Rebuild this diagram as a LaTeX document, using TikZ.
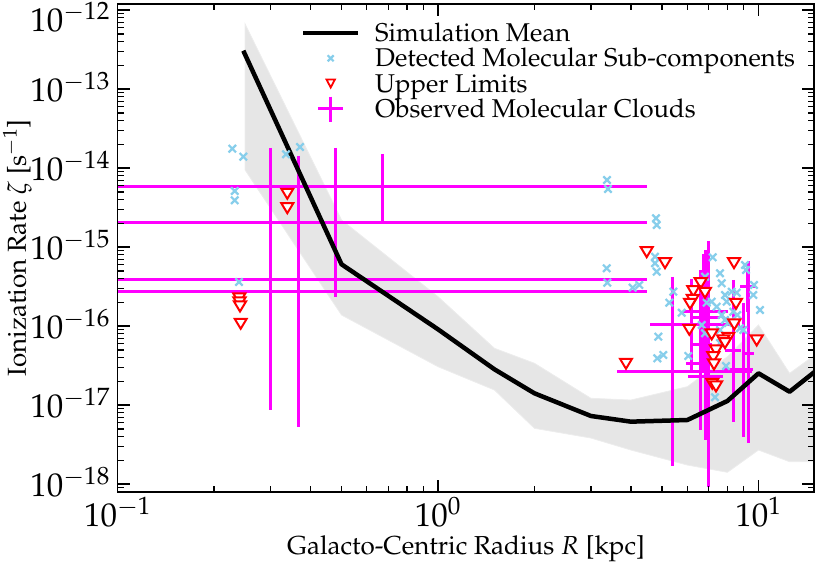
\documentclass[tikz,border=0pt]{standalone}
\usepackage[T1]{fontenc}
\usepackage{mathpazo}
\definecolor{sky}{HTML}{87CEEB}
\definecolor{mag}{HTML}{FF00FF}
\definecolor{bandc}{HTML}{E6E6E6}
\definecolor{bandedge}{HTML}{EDEDED}
\tikzset{
  spine/.style={line width=1.8pt, line cap=rect},
  tickmaj/.style={line width=1.5pt},
  tickmin/.style={line width=1.2pt},
  meanline/.style={line width=4.5pt, line join=round, black},
  errbar/.style={mag, line width=3pt},
  skyx/.style={sky, line width=2.2pt},
  redtri/.style={red, line width=2pt, fill=white, line join=miter},
  ticklab/.style={font=\fontsize{33}{33}\selectfont, inner sep=0pt},
  axlab/.style={font=\fontsize{26}{30}\selectfont, inner sep=0pt},
  leglab/.style={font=\fontsize{25.7}{30}\selectfont, inner sep=0pt, anchor=base west},
}
\newcommand\skyxm[3][3.7]{\draw[skyx] (#2-#1,#3-#1) -- (#2+#1,#3+#1) (#2-#1,#3+#1) -- (#2+#1,#3-#1);}
\newcommand\rtri[2]{\draw[redtri] (#1-6,#2-4.5) -- (#1+6,#2-4.5) -- (#1,#2+5.5) -- cycle;}
\newcommand\ebar[6]{\draw[errbar] (#3,#2) -- (#4,#2) (#1,#5) -- (#1,#6);}
\begin{document}
\begin{tikzpicture}
\useasboundingbox (0,0) rectangle (815pt,565pt);
% ---------- band (data coordinates: u=log10 R, v=log10 zeta)
\begin{scope}
\clip (117.5pt,73pt) rectangle (814pt,561pt);
\begin{scope}[x=320.5pt, y=79pt, shift={(438pt,1502.76pt)}]
\fill[bandc, draw=bandedge, line width=0.8pt]
  (-0.602,-12.174) -- (-0.301,-14.655) -- (0,-15.626) -- (0.176,-16.279) -- (0.301,-16.469)
  -- (0.477,-16.912) -- (0.602,-16.934) -- (0.778,-16.765) -- (0.903,-16.386) -- (1,-15.984)
  -- (1.097,-16.596) -- (1.176,-16.364) -- (1.2,-16.3) -- (1.2,-17.715)
  -- (1.176,-17.715) -- (1.097,-17.715) -- (1,-17.567) -- (0.903,-17.849) -- (0.778,-17.757)
  -- (0.602,-17.567) -- (0.477,-17.415) -- (0.301,-17.292) -- (0.176,-16.807) -- (0,-16.512)
  -- (-0.301,-15.858) -- (-0.602,-14.022) -- cycle;
\end{scope}
\end{scope}
% ---------- pixel coordinates (y downward)
\begin{scope}[x=1pt, y=-1pt, yshift=565pt]
\begin{scope}
\clip (117.5,4) rectangle (814,492);
% error bars (observed molecular clouds)
\ebar{382.3}{187}{100}{647}{154}{222}
\ebar{335.7}{222.5}{100}{647}{148}{297}
\ebar{270}{279.3}{100}{647}{148}{410}
\ebar{298.3}{291.3}{100}{647}{156}{427}
\ebar{672.7}{371.7}{617}{752}{277}{466}
\ebar{691.7}{325}{650}{740}{279}{373}
\ebar{703.3}{312}{683}{728}{254}{370}
\ebar{748.3}{353.3}{742}{754}{261}{443}
\ebar{708.3}{364}{686}{718}{241}{487}
\ebar{705}{376.7}{688}{723}{313}{440}
\ebar{743.3}{370}{722}{753}{303}{437}
\ebar{733}{351}{725}{741}{280}{422}
\ebar{747}{286.7}{740}{755}{262}{312}
\ebar{705}{318}{690}{720}{250}{390}
\ebar{700}{345}{692}{712}{270}{430}
\end{scope}
\end{scope}
% mean line
\begin{scope}
\clip (117.5pt,73pt) rectangle (814pt,561pt);
\begin{scope}[x=320.5pt, y=79pt, shift={(438pt,1502.76pt)}]
\draw[meanline] (-0.6075,-12.512) -- (-0.301,-15.216) -- (0,-16.039) -- (0.176,-16.545)
  -- (0.301,-16.849) -- (0.477,-17.136) -- (0.602,-17.208) -- (0.778,-17.187)
  -- (0.903,-16.946) -- (1,-16.596) -- (1.097,-16.829) -- (1.176,-16.575) -- (1.2,-16.5);
\end{scope}
\end{scope}
\begin{scope}[x=1pt, y=-1pt, yshift=565pt]
\begin{scope}
\clip (117.5,4) rectangle (814,492);
% detected sub-components
\foreach \a/\b in {232.3/148.7,243.3/156.7,286/154.3,300/147,234.7/191,234.7/200.3,239/282,
  607/180,608/189,656/218.3,656.7/225,606.7/268.3,607.3/282.7,632.7/287.7,639.3/285,
  655/256.7,655/263.3,656.7/271.7,712.7/257.3,745/265,746/270,720/273.3,721.7/283.3,
  673.3/291.7,669.3/302.7,681.7/312.7,705/276.7,754/285,753.3/295,760/310,725/295,
  731.7/291.7,736.7/292.7,726.7/301.7,733.3/311.7,737.3/315,721.7/315,725/320,730/321.7,
  711.7/301.7,706.7/302.7,716.7/306.7,701.7/325,705/333.3,720/330,740/328.3,743.3/330,
  658.3/336.7,657.3/358.3,663.3/355,688.3/356,726/366,728/323,720/343,715/397.3}
  {\skyxm{\a}{\b}}
% upper limits
\foreach \a/\b in {287.3/193.3,287.3/207.7,239.3/298,239.5/302,240/306,240.7/323.3,
  646.7/251.7,665/262.7,734/262.7,700.7/282.7,693.3/290.7,705/292.3,692.7/299.3,690/303.3,
  736/303.3,734.3/324,689.3/329.3,711.7/334,728.3/337.3,723.3/340,756.7/340,716/350,
  713.3/356.7,714/364,712.3/383.3,716/386,626/363.3,725/342.7}
  {\rtri{\a}{\b}}
\end{scope}
% ticks
\begin{scope}
\clip (117.5,4) rectangle (814,492);
\foreach \u in {-1,0,1} {
  \pgfmathsetmacro\px{438+320.5*\u}
  \draw[tickmaj] (\px,492) -- (\px,480) (\px,4) -- (\px,16);
}
\foreach \n in {-1,0,1} \foreach \k in {2,...,9} {
  \pgfmathsetmacro\px{438+320.5*(\n+log10(\k))}
  \draw[tickmin] (\px,492) -- (\px,486) (\px,4) -- (\px,10);
}
\foreach \v in {-12,...,-18} {
  \pgfmathsetmacro\py{-937.76-79*\v}
  \draw[tickmaj] (117.5,\py) -- (129.5,\py) (814,\py) -- (802,\py);
}
\foreach \n in {-19,...,-13} \foreach \k in {2,...,9} {
  \pgfmathsetmacro\py{-937.76-79*(\n+log10(\k))}
  \draw[tickmin] (117.5,\py) -- (123.5,\py) (814,\py) -- (808,\py);
}
\end{scope}
% spines
\draw[spine] (117.5,4) rectangle (814,492);
% tick labels
\node[ticklab, anchor=north] (xl1) at (117.5,497) {$10^{-1}$};
\node[ticklab, anchor=north] (xl2) at (438,497) {$10^{0}$};
\node[ticklab, anchor=north] (xl3) at (758.5,497) {$10^{1}$};
\node[ticklab, anchor=base east] (yl12) at (110,31.5) {$10^{-12}$};
\foreach \v/\t in {-13/13,-14/14,-15/15,-16/16,-17/17,-18/18} {
  \pgfmathsetmacro\py{-937.76-79*\v+12}
  \node[ticklab, anchor=base east] at (110,\py) {$10^{-\t}$};
}
% axis labels
\node[axlab, anchor=base] (xlab) at (466,555) {Galacto-Centric Radius $R$ [kpc]};
\node[axlab, anchor=base, rotate=90] (ylab) at (26,248) {Ionization Rate $\zeta$ [s$^{-1}$]};
% legend
\draw[meanline, line cap=butt] (303,33) -- (358,33);
\skyxm[3]{330.7}{58.3}
\draw[redtri, line width=1.8pt] (326.5,79.5) -- (334.9,79.5) -- (330.7,87.5) -- cycle;
\draw[errbar] (318.3,109) -- (343.3,109) (330.7,96.7) -- (330.7,121.7);
\node[leglab] (l1) at (375,41.7) {Simulation Mean};
\node[leglab] (l2) at (375,66.9) {Detected Molecular Sub-components};
\node[leglab] (l3) at (375,92.4) {Upper Limits};
\node[leglab] (l4) at (375,118) {Observed Molecular Clouds};
\end{scope}
\end{tikzpicture}
\end{document}
